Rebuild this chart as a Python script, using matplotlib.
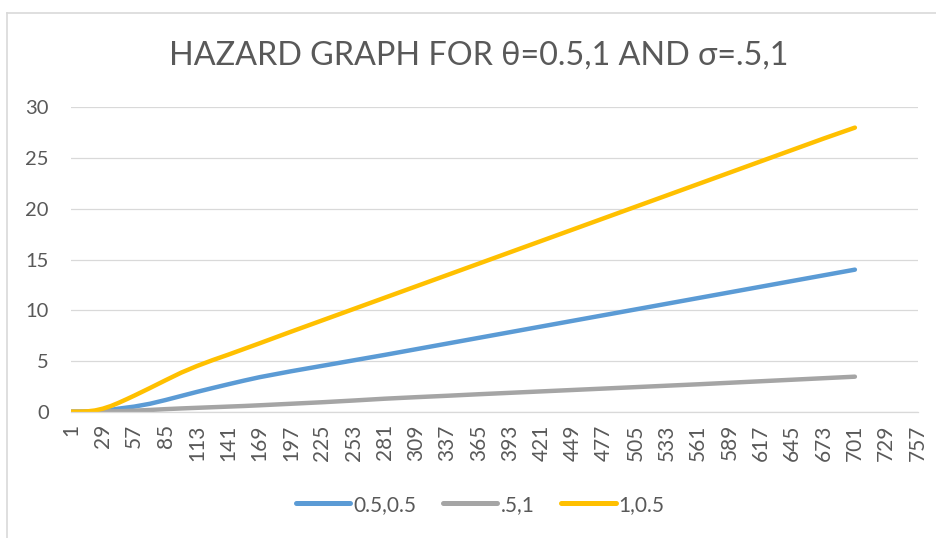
import matplotlib
matplotlib.use("Agg")
import matplotlib.pyplot as plt
from matplotlib.lines import Line2D

# values (category index -> hazard)
x_points = [1, 8, 15, 22, 29, 36, 43, 50, 57, 71, 85, 99, 113, 127, 141, 155, 169,
            197, 225, 253, 281, 309, 337, 365, 393, 421, 449, 477, 505, 533, 561,
            589, 617, 645, 673, 701]

h_05_05 = [0, 0, 0.02, 0.05, 0.1, 0.18, 0.3, 0.4, 0.5, 0.78, 1.15, 1.55, 1.95, 2.33,
           2.7, 3.06, 3.4, 3.98, 4.52, 5.06, 5.6, 6.16, 6.72, 7.28, 7.84, 8.4, 8.96,
           9.52, 10.08, 10.64, 11.2, 11.76, 12.32, 12.88, 13.44, 14.0]

h_5_1 = [0, 0, 0, 0, 0.01, 0.03, 0.05, 0.07, 0.1, 0.17, 0.25, 0.32, 0.38, 0.44, 0.5,
         0.56, 0.63, 0.78, 0.93, 1.1, 1.28, 1.43, 1.57, 1.72, 1.86, 2.0, 2.14, 2.28,
         2.42, 2.56, 2.7, 2.85, 3.0, 3.15, 3.3, 3.45]

h_1_05 = [0, 0, 0.03, 0.12, 0.3, 0.55, 0.87, 1.22, 1.58, 2.33, 3.1, 3.85, 4.5, 5.08,
          5.62, 6.18, 6.74, 7.88, 9.0, 10.12, 11.24, 12.36, 13.48, 14.6, 15.72, 16.84,
          17.96, 19.08, 20.2, 21.32, 22.44, 23.56, 24.68, 25.8, 26.92, 28.0]

series_names = ["0.5,0.5", ".5,1", "1,0.5"]
colors = ["#5B9BD5", "#A5A5A5", "#FFC000"]

n_categories = 757
tick_labels = list(range(1, n_categories + 1, 28))
y_ticks = [0, 5, 10, 15, 20, 25, 30]

title = "HAZARD GRAPH FOR \u03b8=0.5,1 AND \u03c3=.5,1"
text_color = "#595959"
font = ["Lato", "DejaVu Sans"]

fig = plt.figure(figsize=(9.36, 5.38), dpi=100)
ax = fig.add_axes([0.0759, 0.2348, 0.905, 0.5657])

for vals, name, c in zip([h_05_05, h_5_1, h_1_05], series_names, colors):
    ax.plot(x_points, vals, color=c, lw=3.2, solid_capstyle="round",
            solid_joinstyle="round", label=name)

ax.set_xlim(0.5, n_categories + 0.5)
ax.set_ylim(0, 30)
ax.set_yticks(y_ticks)
ax.set_yticklabels([str(v) for v in y_ticks], fontsize=14.5, color=text_color,
                   family=font)
ax.set_xticks(tick_labels)
ax.set_xticklabels([str(v) for v in tick_labels], rotation=90, fontsize=15,
                   color=text_color, family=font)
ax.tick_params(axis="both", length=0)
ax.tick_params(axis="y", pad=16)
ax.tick_params(axis="x", pad=9)

ax.grid(axis="y", color="#D9D9D9", lw=0.9)
ax.set_axisbelow(True)
for side in ["top", "right", "left"]:
    ax.spines[side].set_visible(False)
ax.spines["bottom"].set_color("#D9D9D9")
ax.spines["bottom"].set_linewidth(0.9)

fig.text(0.511, 0.897, title, ha="center", va="center", fontsize=23.3,
         color=text_color, family=font)

handles = [Line2D([0], [0], color=c, lw=3.6, solid_capstyle="round") for c in colors]
leg = fig.legend(handles, series_names, loc="center", bbox_to_anchor=(0.513, 0.062),
                 ncol=3, frameon=False, handlelength=2.6, handletextpad=0.15,
                 columnspacing=1.3, prop={"family": font, "size": 15})
for t in leg.get_texts():
    t.set_color(text_color)

# chart area border (left and top edges visible in the reference)
fig.add_artist(Line2D([0.0075, 0.0075], [0, 0.975], color="#D9D9D9", lw=1.2,
                      transform=fig.transFigure))
fig.add_artist(Line2D([0.0075, 1.0], [0.975, 0.975], color="#D9D9D9", lw=1.2,
                      transform=fig.transFigure))

fig.savefig("out.png", dpi=100, facecolor="white")
